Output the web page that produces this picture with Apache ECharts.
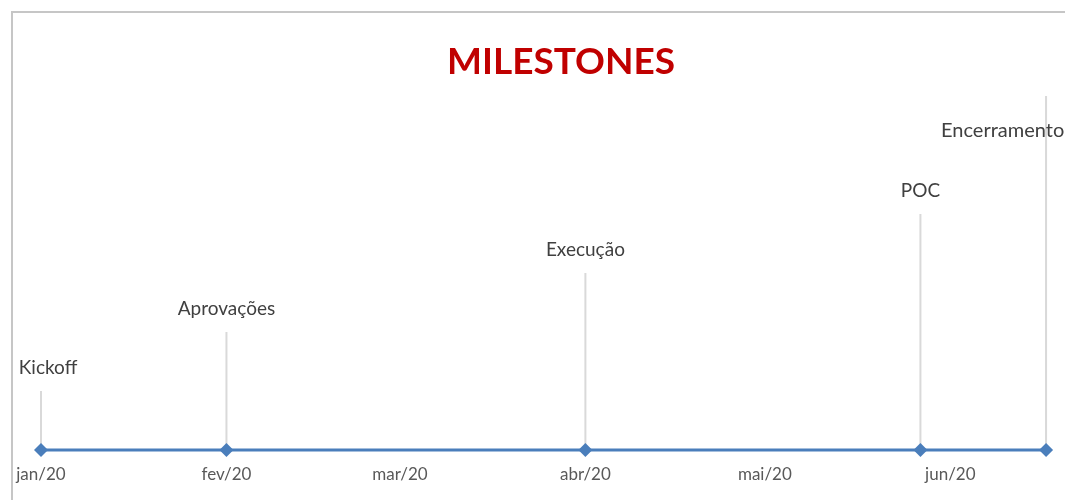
<html>
    <head>
        <meta charset='utf-8'>
        <title>Milestones</title>
        <style>
            body { margin: 0; background: #ffffff; overflow: hidden; }
            #milestones_chart { width: 1065px; height: 500px; }
        </style>
        <script type="text/javascript" src="https://cdn.jsdelivr.net/npm/echarts@6/dist/echarts.min.js"></script>
    </head>
    <body>
        <div id="milestones_chart"></div>
    </body>
    <script type="text/javascript">
        // marcos do projeto
        var milestone_names = ['Kickoff', 'Aprovações', 'Execução', 'POC', 'Encerramento'];
        var milestone_dates = ['2020-01-01', '2020-02-01', '2020-04-01', '2020-05-27', '2020-06-17'];
        var milestone_heights = [1, 2, 3, 4, 6];
        var month_labels = ['jan', 'fev', 'mar', 'abr', 'mai', 'jun', 'jul', 'ago', 'set', 'out', 'nov', 'dez'];
        var axis_start = '2020-01-01';
        var axis_end = '2020-06-20';

        var font_name = 'Lato';
        var chart = echarts.init(document.getElementById('milestones_chart'));

        var stem_data = [];
        var line_data = [];
        milestone_dates.forEach(function (d, i) {
            var item = {value: [d, milestone_heights[i]]};
            if (i == 0) {
                item.label = {offset: [7, 0]};
            }
            if (i == milestone_dates.length - 1) {
                // rotulo do ultimo marco fica a esquerda da haste
                item.label = {position: [-104, 35], align: 'left', verticalAlign: 'middle', fontSize: 20};
            }
            stem_data.push(item);
            line_data.push([d, 0]);
        });

        var option = {
            animation: false,
            title: {
                text: 'MILESTONES',
                left: 556,
                top: 39,
                textAlign: 'center',
                textStyle: {color: '#c00000', fontSize: 37, fontWeight: 'bold', fontFamily: font_name}
            },
            graphic: [{
                type: 'rect',
                shape: {x: 12, y: 12, width: 1200, height: 600},
                style: {fill: 'none', stroke: '#c6c6c6', lineWidth: 2},
                silent: true
            }],
            grid: {left: 40, right: 0, top: 96, bottom: 50},
            xAxis: {
                type: 'time',
                min: axis_start,
                max: axis_end,
                minInterval: 28 * 86400000,
                axisLine: {show: false},
                axisTick: {show: false},
                splitLine: {show: false},
                axisLabel: {
                    margin: 16,
                    showMaxLabel: false,
                    color: '#595959',
                    fontSize: 17,
                    fontFamily: font_name,
                    formatter: function (value) {
                        var d = new Date(value);
                        return month_labels[d.getMonth()] + '/' + String(d.getFullYear()).slice(2);
                    }
                }
            },
            yAxis: {
                type: 'value',
                min: 0,
                max: 6,
                show: false
            },
            series: [
                {
                    name: 'Hastes',
                    type: 'bar',
                    barWidth: 2,
                    itemStyle: {color: '#d9d9d9'},
                    label: {
                        show: true,
                        position: 'top',
                        distance: 14,
                        color: '#404040',
                        fontSize: 19,
                        fontFamily: font_name,
                        formatter: function (p) { return milestone_names[p.dataIndex]; }
                    },
                    data: stem_data
                },
                {
                    name: 'Linha',
                    type: 'line',
                    clip: false,
                    symbol: 'diamond',
                    symbolSize: 14,
                    lineStyle: {color: '#4a7ebb', width: 3},
                    itemStyle: {color: '#4a7ebb'},
                    z: 3,
                    data: line_data
                }
            ]
        };
        chart.setOption(option);
    </script>
</html>
